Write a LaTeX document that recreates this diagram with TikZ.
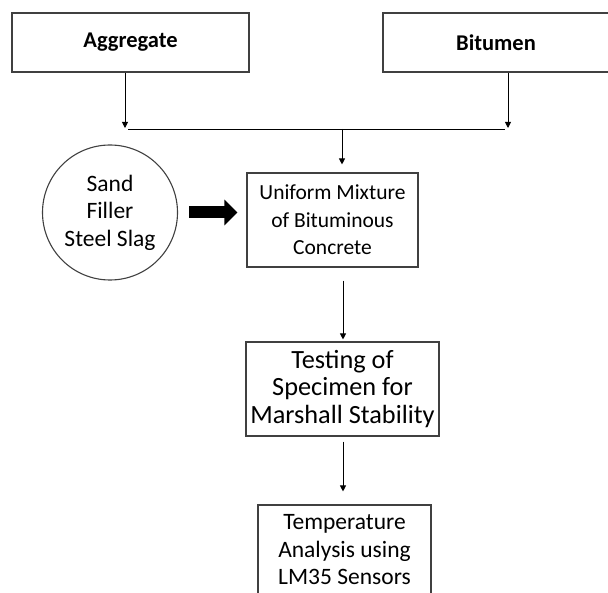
\documentclass[tikz,border=0pt]{standalone}
\usepackage{fontspec}
\setmainfont{Carlito}
\usetikzlibrary{arrows.meta}
\definecolor{boxgray}{HTML}{404040}
\begin{document}
\begin{tikzpicture}[x=1pt,y=-1pt,
  box/.style={draw=boxgray, line width=1.1pt, align=center, inner sep=0pt,
    font=\fontsize{23.5}{27.5}\selectfont},
  topbox/.style={box, font=\fontsize{22.5}{24}\selectfont\bfseries},
  conn/.style={draw=black, line width=0.9pt, -{Triangle[length=6pt 0 0,width=6pt 0 0]}},
  plain/.style={draw=black, line width=0.9pt},
  fat/.style={draw=black, line width=12pt, -{Triangle[length=13pt 0 0,width=25pt 0 0]}}]
\useasboundingbox (0,0) rectangle (608,593);
\clip (0,0) rectangle (608,593);
% top boxes
\node[topbox, minimum width=237pt, minimum height=59pt] (agg) at (130.5,42.5) {Aggregate};
\node[topbox, minimum width=226pt, minimum height=59pt] (bit) at (496,42.5) {Bitumen};
% junction
\coordinate (jl) at (125,129);
\coordinate (jr) at (508,129);
\coordinate (jm) at (342,129);
\coordinate (colx) at (343,0);
% circle
\node[box, circle, minimum size=135pt] (circ) at (110,212.5) {Sand\\Filler\\Steel Slag};
% process boxes
\node[box, minimum width=171pt, minimum height=94pt, font=\fontsize{21.5}{27.5}\selectfont] (mix) at (332.5,220) {Uniform Mixture\\of Bituminous\\Concrete};
\node[box, minimum width=193pt, minimum height=94pt, font=\fontsize{26.3}{27.5}\selectfont] (test) at (342.5,389) {Testing of\\Specimen for\\Marshall Stability};
\node[box, minimum width=173pt, minimum height=90pt] (temp) at (344.5,550) {Temperature\\Analysis using\\LM35 Sensors};
% connectors
\draw[conn] (agg.south -| jl) -- ([yshift=1pt]jl);
\draw[conn] (bit.south -| jr) -- ([yshift=1pt]jr);
\draw[plain] ([xshift=3pt]jl) -- ([xshift=-3pt]jr);
\draw[conn, shorten >=8pt] (jm) -- (mix.north -| jm);
\draw[fat, shorten <=11pt, shorten >=9pt] (circ.east) -- (circ.east -| mix.west);
\draw[conn, shorten <=13pt, shorten >=2pt] (mix.south -| colx) -- (test.north -| colx);
\draw[conn, shorten <=5pt, shorten >=13pt] (test.south -| colx) -- (temp.north -| colx);
\end{tikzpicture}
\end{document}
